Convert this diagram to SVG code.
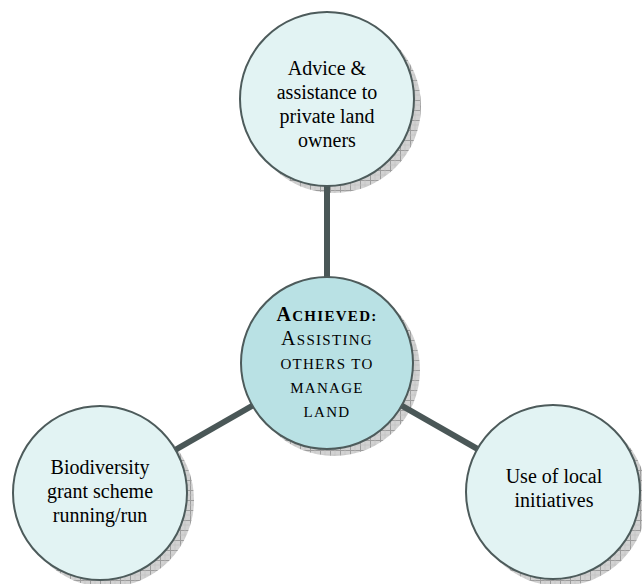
<svg xmlns="http://www.w3.org/2000/svg" width="642" height="584" viewBox="0 0 642 584">
  <defs>
    <pattern id="hatch" width="10" height="10" patternUnits="userSpaceOnUse">
      <rect width="10" height="10" fill="#d2d2d2"/>
      <path d="M0 0.5H10M0.5 0V10" stroke="#9c9c9c" stroke-width="1"/>
      <path d="M5 0V10M0 5H10" stroke="#c0c0c0" stroke-width="0.6"/>
    </pattern>
  </defs>
  <style>
    .shadow { fill: url(#hatch); }
    .outer { fill: #e2f3f3; stroke: #4d5b5b; stroke-width: 2; }
    .center { fill: #b9e1e4; stroke: #4d5b5b; stroke-width: 2; }
    .conn { stroke: #4a5757; stroke-width: 6; fill: none; }
    .lbl { font-family: "Liberation Serif", "Times New Roman", serif; font-size: 20px; fill: #000; text-anchor: middle; }
    .sc { font-family: "Liberation Serif", "Times New Roman", serif; font-size: 15px; fill: #000; text-anchor: middle; letter-spacing: 1.3px; }
    .big { font-size: 20px; }
  </style>

  <g id="shadows">
    <circle class="shadow" cx="334" cy="106" r="87"/>
    <circle class="shadow" cx="334" cy="370" r="86"/>
    <circle class="shadow" cx="107" cy="500" r="87"/>
    <circle class="shadow" cx="560" cy="499" r="87"/>
  </g>

  <g id="connectors">
    <line class="conn" x1="327" y1="99" x2="327" y2="363"/>
    <line class="conn" x1="327" y1="363" x2="100" y2="493"/>
    <line class="conn" x1="327" y1="363" x2="553" y2="492"/>
  </g>

  <g id="node-advice">
    <circle class="outer" cx="327" cy="99" r="87"/>
    <text class="lbl" x="327" y="75">Advice &amp;</text>
    <text class="lbl" x="327" y="99">assistance to</text>
    <text class="lbl" x="327" y="123">private land</text>
    <text class="lbl" x="327" y="147">owners</text>
  </g>

  <g id="node-achieved">
    <circle class="center" cx="327" cy="363" r="86"/>
    <text class="sc" x="327" y="321" font-weight="bold"><tspan class="big">A</tspan>CHIEVED:</text>
    <text class="sc" x="327" y="345"><tspan class="big">A</tspan>SSISTING</text>
    <text class="sc" x="327" y="369">OTHERS TO</text>
    <text class="sc" x="327" y="393">MANAGE</text>
    <text class="sc" x="327" y="417">LAND</text>
  </g>

  <g id="node-biodiversity">
    <circle class="outer" cx="100" cy="493" r="87"/>
    <text class="lbl" x="100" y="474">Biodiversity</text>
    <text class="lbl" x="100" y="498">grant scheme</text>
    <text class="lbl" x="100" y="522">running/run</text>
  </g>

  <g id="node-local">
    <circle class="outer" cx="553" cy="492" r="87"/>
    <text class="lbl" x="554" y="483">Use of local</text>
    <text class="lbl" x="554" y="507">initiatives</text>
  </g>
</svg>
